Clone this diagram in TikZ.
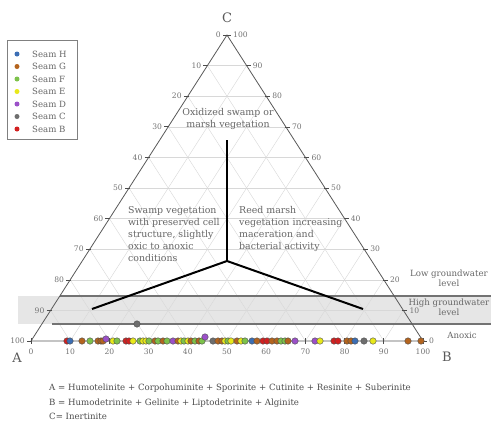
\documentclass[tikz,border=0pt]{standalone}
\usepackage{fontspec}
\setmainfont{DejaVu Serif}
\usetikzlibrary{calc}
\definecolor{seamH}{HTML}{3C6EB4}
\definecolor{seamG}{HTML}{B4641E}
\definecolor{seamF}{HTML}{7DC24B}
\definecolor{seamE}{HTML}{E8E81A}
\definecolor{seamD}{HTML}{9B50C8}
\definecolor{seamC}{HTML}{6E6E6E}
\definecolor{seamB}{HTML}{D22020}
\definecolor{txtgray}{HTML}{666666}
\definecolor{gridgray}{HTML}{D8D8D8}
\definecolor{bandfill}{HTML}{E6E6E6}
\begin{document}
\begin{tikzpicture}[x=1pt,y=-1pt,
  gridline/.style={draw=gridgray,line width=0.4pt},
  edge/.style={draw=black!65,line width=0.8pt},
  tickmark/.style={draw=black!70,line width=0.6pt},
  ticklab/.style={text=black!55,font=\fontsize{7.6}{9}\selectfont,inner sep=0pt},
  bandline/.style={draw=black!55,line width=1.1pt},
  yline/.style={draw=black,line width=2pt},
  region/.style={text=txtgray,font=\fontsize{9.4}{12}\selectfont,inner sep=0pt},
  small/.style={text=txtgray,font=\fontsize{8.6}{10}\selectfont,inner sep=0pt},
  corner/.style={text=black!65,font=\fontsize{13}{15}\selectfont,inner sep=0pt},
  pt/.style={circle,draw=black!70,line width=0.4pt,inner sep=0pt,minimum size=6.5pt},
  legdot/.style={circle,inner sep=0pt,minimum size=5pt}]
\useasboundingbox (0,0) rectangle (491,421);
\fill[white] (0,0) rectangle (491,421);
\coordinate (A) at (31,341);
\coordinate (B) at (423,341);
\coordinate (C) at (227,35);
% groundwater band
\fill[bandfill] (18,296) rectangle (491,324);
% grid
\foreach \i in {1,...,9} {
  \draw[gridline] ($(A)!\i/10!(C)$) -- ($(B)!\i/10!(C)$);
  \draw[gridline] ($(B)!\i/10!(A)$) -- ($(C)!\i/10!(A)$);
  \draw[gridline] ($(A)!\i/10!(B)$) -- ($(C)!\i/10!(B)$);
}
% band lines
\coordinate (bt1) at (60,296); \coordinate (bt2) at (491,296);
\coordinate (bb1) at (52,324); \coordinate (bb2) at (491,324);
\draw[bandline] (bt1) -- (bt2);
\draw[bandline] (bb1) -- (bb2);
% triangle
\draw[edge] (A) -- (B) -- (C) -- cycle;
% ticks and labels
\foreach \i [evaluate=\i as \v using int(\i*10)] in {0,...,10} {
  \coordinate (l\i) at ($(C)!\i/10!(A)$);
  \draw[tickmark] ($(l\i)+(-4,0)$) -- ($(l\i)+(1,0)$);
  \node[ticklab,anchor=east] (ll\i) at ($(l\i)+(-6,0)$) {\v};
  \coordinate (r\i) at ($(B)!\i/10!(C)$);
  \draw[tickmark] ($(r\i)+(-1,0)$) -- ($(r\i)+(4,0)$);
  \node[ticklab,anchor=west] (rl\i) at ($(r\i)+(6,0)$) {\v};
  \coordinate (b\i) at ($(A)!\i/10!(B)$);
  \draw[tickmark] ($(b\i)+(0,-3)$) -- ($(b\i)+(0,3)$);
  \node[ticklab,anchor=north] (bl\i) at ($(b\i)+(0,8)$) {\v};
}
% corner labels
\node[corner] (cA) at (17,358) {A};
\node[corner] (cB) at (447,357) {B};
\node[corner] (cC) at (227,18) {C};
% Y lines
\coordinate (Yc) at (227,261);
\coordinate (Yt) at (227,140);
\coordinate (Yl) at (92,309);
\coordinate (Yr) at (363,309);
\draw[yline] (Yt) -- (Yc);
\draw[yline,line join=miter] (Yl) -- (Yc) -- (Yr);
% region texts
\node[region,align=center,anchor=north] (tox) at (228,108) {Oxidized swamp or\\marsh vegetation};
\node[region,align=left,anchor=north west] (tsw) at (128,206) {Swamp vegetation\\with preserved cell\\structure, slightly\\oxic to anoxic\\conditions};
\node[region,align=left,anchor=north west] (tre) at (239,206) {Reed marsh\\vegetation increasing\\maceration and\\bacterial activity};
% groundwater labels
\node[small,align=center] (tlow) at (449,278) {Low groundwater\\level};
\node[small,align=center] (thigh) at (449,307) {High groundwater\\level};
\node[small] (tan) at (462,335) {Anoxic};
% legend
\draw[draw=black!50,line width=0.5pt] (7,40) rectangle (77,139);
\foreach \c/\n [count=\k from 0] in {seamH/H,seamG/G,seamF/F,seamE/E,seamD/D,seamC/C,seamB/B} {
  \node[legdot,fill=\c] (ld\n) at (17,{54+12.5*\k}) {};
  \node[small,anchor=west] (lt\n) at (32,{54+12.5*\k}) {Seam \n};
}
% data points
\foreach \x/\c [count=\k] in {
  67/seamB,70/seamH,82/seamG,90/seamF,98/seamG,101/seamG,103/seamG,113/seamE,117/seamF,
  126/seamB,129/seamB,133/seamE,140/seamF,143/seamE,146/seamE,149/seamF,155/seamG,158/seamF,
  163/seamG,167/seamF,173/seamD,178/seamG,181/seamE,184/seamF,188/seamE,191/seamG,195/seamF,
  199/seamG,202/seamF,213/seamC,218/seamG,222/seamG,225/seamE,228/seamF,231/seamE,237/seamG,
  241/seamE,245/seamF,252/seamH,257/seamG,263/seamB,267/seamB,272/seamG,277/seamG,281/seamF,
  285/seamF,288/seamG,295/seamD,315/seamD,320/seamE,334/seamB,338/seamB,347/seamG,351/seamG,
  355/seamH,364/seamC,373/seamE,408/seamG,421/seamG} {
  \node[pt,fill=\c] (p\k) at (\x,341) {};
}
\node[pt,fill=seamD] (pd1) at (106,339) {};
\node[pt,fill=seamD] (pd2) at (205,337) {};
\node[pt,fill=seamC] (pc1) at (137,324) {};
% bottom text
\node[small,anchor=west,text=black!70] (tA) at (49,388) {A = Humotelinite + Corpohuminite + Sporinite + Cutinite + Resinite + Suberinite};
\node[small,anchor=west,text=black!70] (tB) at (49,403) {B = Humodetrinite + Gelinite + Liptodetrinite + Alginite};
\node[small,anchor=west,text=black!70] (tC) at (49,416) {C= Inertinite};
\end{tikzpicture}
\end{document}
